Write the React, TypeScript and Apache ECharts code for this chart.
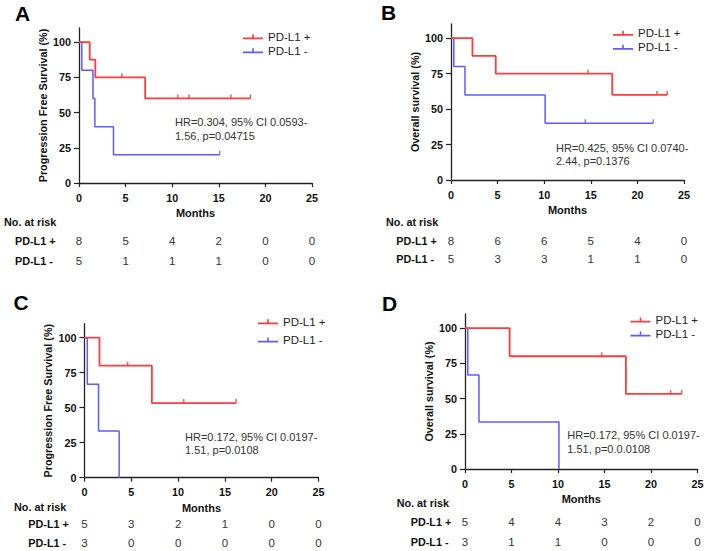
import React, { useEffect, useRef } from "react";
import * as echarts from "echarts";

// ---------- data ----------
const xTicks = [0, 5, 10, 15, 20, 25];
const yTicks = [0, 25, 50, 75, 100];
const groupNames = ["PD-L1 +", "PD-L1 -"];
const panelLetters = ["A", "B", "C", "D"];
const yTitles = [
  "Progression Free Survival (%)",
  "Overall survival (%)",
  "Progression Free Survival (%)",
  "Overall survival (%)",
];

// Panel A (PFS)
const aPlusTime = [0, 1.15, 1.75, 7.1, 18.4];
const aPlusSurv = [100, 87.5, 75, 60, 60];
const aPlusCensor = [4.6, 10.6, 11.8, 16.3, 18.4];
const aMinusTime = [0, 0.3, 1.5, 1.7, 3.7, 15.1];
const aMinusSurv = [100, 80, 60, 40, 20, 20];
const aMinusCensor = [15.1];
const aRiskPlus = [8, 5, 4, 2, 0, 0];
const aRiskMinus = [5, 1, 1, 1, 0, 0];
const aHR = ["HR=0.304, 95% CI 0.0593-", "1.56, p=0.04715"];

// Panel B (OS)
const bPlusTime = [0, 2.3, 4.8, 17.3, 23.2];
const bPlusSurv = [100, 87.5, 75, 60, 60];
const bPlusCensor = [14.7, 22.1, 23.2];
const bMinusTime = [0, 0.3, 1.5, 10.1, 21.7];
const bMinusSurv = [100, 80, 60, 40, 40];
const bMinusCensor = [14.4, 21.7];
const bRiskPlus = [8, 6, 6, 5, 4, 0];
const bRiskMinus = [5, 3, 3, 1, 1, 0];
const bHR = ["HR=0.425, 95% CI 0.0740-", "2.44, p=0.1376"];

// Panel C (PFS)
const cPlusTime = [0, 1.6, 7.2, 16.2];
const cPlusSurv = [100, 80, 53.3, 53.3];
const cPlusCensor = [4.6, 10.6, 16.2];
const cMinusTime = [0, 0.3, 1.5, 3.7];
const cMinusSurv = [100, 66.7, 33.3, 0];
const cMinusCensor: number[] = [];
const cRiskPlus = [5, 3, 2, 1, 0, 0];
const cRiskMinus = [3, 0, 0, 0, 0, 0];
const cHR = ["HR=0.172, 95% CI 0.0197-", "1.51, p=0.0108"];

// Panel D (OS)
const dPlusTime = [0, 4.8, 17.3, 23.3];
const dPlusSurv = [100, 80, 53.3, 53.3];
const dPlusCensor = [14.7, 22.1, 23.3];
const dMinusTime = [0, 0.3, 1.5, 10.1];
const dMinusSurv = [100, 66.7, 33.3, 0];
const dMinusCensor: number[] = [];
const dRiskPlus = [5, 4, 4, 3, 2, 0];
const dRiskMinus = [3, 1, 1, 0, 0, 0];
const dHR = ["HR=0.172, 95% CI 0.0197-", "1.51, p=0.0.0108"];

// ---------- layout / style ----------
const RED = "#ff3d3d";
const BLUE = "#5c5cff";
const FONT = "'Liberation Sans', Arial, sans-serif";

const layouts = [
  { grid: { left: 79, top: 28, width: 233, height: 155 }, letter: [15, 14], legend: [243, 29.7, 0], hr: [175, 115.5], noRisk: [4, 222], rowLbl: [15, 241, 261], rowMargin: [58, 78] },
  { grid: { left: 451, top: 24, width: 233, height: 156 }, letter: [381, 13], legend: [613, 26.3, 0], hr: [556, 141], noRisk: [386, 222.3], rowLbl: [396.3, 240.7, 259.3], rowMargin: [60.7, 79.3] },
  { grid: { left: 84.5, top: 323.7, width: 234, height: 154 }, letter: [13.5, 302.5], legend: [258, 314.7, 4.3], hr: [185, 430], noRisk: [14, 506.7], rowLbl: [28.3, 524, 542.7], rowMargin: [46.3, 65] },
  { grid: { left: 465, top: 314, width: 232.5, height: 155 }, letter: [382, 304], legend: [630.5, 313, 0], hr: [567.3, 428.5], noRisk: [396.7, 503], rowLbl: [410.7, 521.7, 542.3], rowMargin: [52.7, 73.3] },
];

const panelData = [
  { pt: aPlusTime, ps: aPlusSurv, pc: aPlusCensor, mt: aMinusTime, ms: aMinusSurv, mc: aMinusCensor, rp: aRiskPlus, rm: aRiskMinus, hr: aHR },
  { pt: bPlusTime, ps: bPlusSurv, pc: bPlusCensor, mt: bMinusTime, ms: bMinusSurv, mc: bMinusCensor, rp: bRiskPlus, rm: bRiskMinus, hr: bHR },
  { pt: cPlusTime, ps: cPlusSurv, pc: cPlusCensor, mt: cMinusTime, ms: cMinusSurv, mc: cMinusCensor, rp: cRiskPlus, rm: cRiskMinus, hr: cHR },
  { pt: dPlusTime, ps: dPlusSurv, pc: dPlusCensor, mt: dMinusTime, ms: dMinusSurv, mc: dMinusCensor, rp: dRiskPlus, rm: dRiskMinus, hr: dHR },
];

function survAt(times: number[], surv: number[], t: number) {
  let v = surv[0];
  for (let i = 0; i < times.length; i++) if (times[i] <= t) v = surv[i];
  return v;
}

function buildOption() {
  const grid: any[] = [];
  const xAxis: any[] = [];
  const yAxis: any[] = [];
  const series: any[] = [];
  const legend: any[] = [];
  const graphic: any[] = [];

  panelData.forEach((p, i) => {
    const L = layouts[i];
    grid.push({ ...L.grid, containLabel: false });

    // main x axis
    xAxis.push({
      gridIndex: i,
      type: "value",
      position: "bottom",
      offset: 0,
      min: 0,
      max: 25,
      interval: 5,
      name: "Months",
      nameLocation: "middle",
      nameGap: 30,
      nameTextStyle: { fontFamily: FONT, fontWeight: "bold", fontSize: 11, color: "#111", verticalAlign: "middle" },
      axisLine: { show: true, onZero: false, lineStyle: { color: "#222", width: 1.3 } },
      axisTick: { show: true, length: 4, lineStyle: { color: "#222", width: 1.2 }, customValues: xTicks },
      axisLabel: {
        fontFamily: FONT,
        fontWeight: "bold",
        fontSize: 10.8,
        color: "#111",
        margin: 14.5,
        verticalAlign: "middle",
        customValues: xTicks,
      },
      splitLine: { show: false },
    });
    // risk rows as extra bottom axes
    [p.rp, p.rm].forEach((risk, r) => {
      xAxis.push({
        gridIndex: i,
        type: "value",
        position: "bottom",
        offset: 0,
        min: 0,
        max: 25,
        interval: 5,
        axisLine: { show: false, onZero: false },
        axisTick: { show: false },
        splitLine: { show: false },
        axisLabel: {
          fontFamily: FONT,
          fontSize: 11.5,
          color: "#333",
          margin: L.rowMargin[r],
          verticalAlign: "middle",
          customValues: xTicks,
          formatter: (v: number) => {
            const idx = xTicks.indexOf(v);
            return idx >= 0 ? String(risk[idx]) : "";
          },
        },
      });
    });

    yAxis.push({
      gridIndex: i,
      type: "value",
      min: 0,
      max: 110,
      name: yTitles[i],
      nameLocation: "middle",
      nameGap: 31,
      nameTextStyle: { fontFamily: FONT, fontWeight: "bold", fontSize: 10.8, color: "#111" },
      axisLine: { show: true, lineStyle: { color: "#222", width: 1.3 } },
      axisTick: { show: true, length: 5, lineStyle: { color: "#222", width: 1.2 }, customValues: yTicks },
      axisLabel: { fontFamily: FONT, fontWeight: "bold", fontSize: 10.8, color: "#111", margin: 8, customValues: yTicks },
      splitLine: { show: false },
    });

    const xBase = i * 3;
    // blue first, then red on top
    series.push({
      name: groupNames[1],
      type: "line",
      step: "end",
      xAxisIndex: xBase,
      yAxisIndex: i,
      showSymbol: false,
      symbol: "none",
      color: BLUE,
      lineStyle: { color: BLUE, width: 1.5 },
      data: p.mt.map((t, k) => [t, p.ms[k]]),
      z: 2,
    });
    series.push({
      name: groupNames[0],
      type: "line",
      step: "end",
      xAxisIndex: xBase,
      yAxisIndex: i,
      showSymbol: false,
      symbol: "none",
      color: RED,
      lineStyle: { color: RED, width: 1.8 },
      data: p.pt.map((t, k) => [t, p.ps[k]]),
      z: 3,
    });
    series.push({
      name: "censor-minus",
      type: "scatter",
      xAxisIndex: xBase,
      yAxisIndex: i,
      symbol: "rect",
      symbolSize: [1.4, 4],
      symbolOffset: [0, -2],
      itemStyle: { color: BLUE },
      data: p.mc.map((t) => [t, survAt(p.mt, p.ms, t)]),
      z: 4,
    });
    series.push({
      name: "censor-plus",
      type: "scatter",
      xAxisIndex: xBase,
      yAxisIndex: i,
      symbol: "rect",
      symbolSize: [1.6, 4],
      symbolOffset: [0, -2],
      itemStyle: { color: RED },
      data: p.pc.map((t) => [t, survAt(p.pt, p.ps, t)]),
      z: 4,
    });

    legend.push({
      orient: "vertical",
      left: L.legend[0],
      top: L.legend[1],
      padding: 0,
      itemGap: L.legend[2],
      itemWidth: 20,
      itemHeight: 5,
      selectedMode: false,
      textStyle: { fontFamily: FONT, fontSize: 11.5, color: "#222", lineHeight: 14 },
      data: [
        { name: groupNames[0], icon: "path://M0,3.2h20v1.8h-20z M9.2,0h1.6v5h-1.6z", itemStyle: { color: RED } },
        { name: groupNames[1], icon: "path://M0,3.2h20v1.8h-20z M9.2,0h1.6v5h-1.6z", itemStyle: { color: BLUE } },
      ],
    });

    graphic.push({
      type: "text",
      left: L.letter[0],
      top: L.letter[1] - 11,
      style: { text: panelLetters[i], font: `bold 21px ${FONT}`, fill: "#000" },
    });
    graphic.push({
      type: "text",
      x: L.hr[0],
      y: L.hr[1],
      style: { text: p.hr.join("\n"), font: `11px ${FONT}`, fill: "#333", lineHeight: 13.5 },
    });
    graphic.push({
      type: "text",
      x: L.noRisk[0],
      y: L.noRisk[1],
      style: { text: "No. at risk", font: `bold 10.8px ${FONT}`, fill: "#111", verticalAlign: "middle" },
    });
    graphic.push({
      type: "text",
      x: L.rowLbl[0],
      y: L.rowLbl[1],
      style: { text: groupNames[0], font: `bold 10.8px ${FONT}`, fill: "#111", verticalAlign: "middle" },
    });
    graphic.push({
      type: "text",
      x: L.rowLbl[0],
      y: L.rowLbl[2],
      style: { text: groupNames[1], font: `bold 10.8px ${FONT}`, fill: "#111", verticalAlign: "middle" },
    });
  });

  return {
    animation: false,
    backgroundColor: "#fff",
    textStyle: { fontFamily: FONT },
    grid,
    xAxis,
    yAxis,
    series,
    legend,
    graphic,
  };
}

export default function App() {
  const ref = useRef<HTMLDivElement>(null);
  useEffect(() => {
    if (!ref.current) return;
    const chart = echarts.init(ref.current, null, { renderer: "svg" });
    chart.setOption(buildOption() as any);
    return () => chart.dispose();
  }, []);
  return (
    <div
      ref={ref}
      style={{ position: "absolute", left: 0, top: 0, width: 708, height: 551, background: "#fff" }}
    />
  );
}
